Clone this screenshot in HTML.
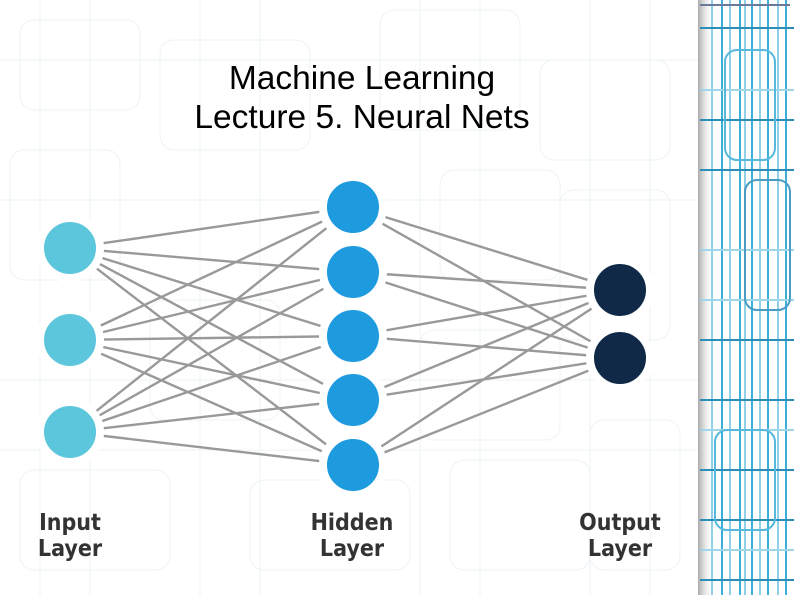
<!DOCTYPE html>
<html><head><meta charset="utf-8"><style>
html,body{margin:0;padding:0;background:#fff}
body{width:794px;height:595px;overflow:hidden;position:relative;font-family:"Liberation Sans",sans-serif}
</style></head><body>
<svg width="794" height="595" viewBox="0 0 794 595" xmlns="http://www.w3.org/2000/svg" style="position:absolute;left:0;top:0">
<g stroke="#eef3f6" stroke-width="1" fill="none">
<rect x="20" y="20" width="120" height="90" rx="14"/><rect x="160" y="40" width="150" height="110" rx="14"/>
<rect x="380" y="10" width="140" height="120" rx="14"/><rect x="540" y="60" width="130" height="100" rx="14"/>
<rect x="10" y="150" width="110" height="130" rx="14"/><rect x="440" y="170" width="120" height="110" rx="14"/>
<rect x="560" y="190" width="110" height="150" rx="14"/><rect x="150" y="300" width="130" height="120" rx="14"/>
<rect x="420" y="330" width="140" height="110" rx="14"/><rect x="20" y="470" width="150" height="100" rx="14"/>
<rect x="250" y="480" width="160" height="90" rx="14"/><rect x="450" y="460" width="140" height="110" rx="14"/>
<rect x="590" y="420" width="90" height="150" rx="14"/>
<path d="M40 0V595M90 0V595M200 0V595M260 0V595M420 0V595M480 0V595M590 0V595M650 0V595M0 60H698M0 200H698M0 380H698M0 450H698"/>
</g>
<defs><linearGradient id="sh" x1="0" x2="1"><stop offset="0" stop-color="#aaa"/><stop offset="1" stop-color="#fff" stop-opacity="0"/></linearGradient></defs>
<rect x="698" y="0" width="96" height="595" fill="#fff"/>
<rect x="698" y="0" width="16" height="595" fill="url(#sh)"/>
<g fill="none" stroke-width="2">
<path d="M722 0V595M740 0V595M752 0V595M768 0V595M786 0V595" stroke="#3ab0d8"/>
<path d="M712 0V595M730 0V595M745 0V595M760 0V595M778 0V595" stroke="#8fd0e6"/>
<path d="M700 28H794M700 120H794M700 170H794M700 340H794M700 400H794M700 470H794M700 520H794M700 580H794" stroke="#2a8fb8"/>
<path d="M700 90H794M700 250H794M700 300H794M700 430H794M700 550H794" stroke="#9fd6ea"/>
<rect x="725" y="50" width="50" height="110" rx="12" stroke="#55b8dc"/>
<rect x="745" y="180" width="45" height="130" rx="12" stroke="#4a9cc4"/>
<rect x="715" y="430" width="60" height="100" rx="12" stroke="#55b8dc"/>
<path d="M700 5H790" stroke="#6a7a9a"/>
</g>
<g stroke="#999" stroke-width="2.4">
<line x1="70" y1="248" x2="353" y2="207"/><line x1="70" y1="248" x2="353" y2="272"/><line x1="70" y1="248" x2="353" y2="336"/><line x1="70" y1="248" x2="353" y2="400"/><line x1="70" y1="248" x2="353" y2="465"/>
<line x1="70" y1="340" x2="353" y2="207"/><line x1="70" y1="340" x2="353" y2="272"/><line x1="70" y1="340" x2="353" y2="336"/><line x1="70" y1="340" x2="353" y2="400"/><line x1="70" y1="340" x2="353" y2="465"/>
<line x1="70" y1="432" x2="353" y2="207"/><line x1="70" y1="432" x2="353" y2="272"/><line x1="70" y1="432" x2="353" y2="336"/><line x1="70" y1="432" x2="353" y2="400"/><line x1="70" y1="432" x2="353" y2="465"/>
<line x1="353" y1="207" x2="620" y2="290"/><line x1="353" y1="207" x2="620" y2="358"/>
<line x1="353" y1="272" x2="620" y2="290"/><line x1="353" y1="272" x2="620" y2="358"/>
<line x1="353" y1="336" x2="620" y2="290"/><line x1="353" y1="336" x2="620" y2="358"/>
<line x1="353" y1="400" x2="620" y2="290"/><line x1="353" y1="400" x2="620" y2="358"/>
<line x1="353" y1="465" x2="620" y2="290"/><line x1="353" y1="465" x2="620" y2="358"/>
</g>
<g stroke="#fff" stroke-width="8">
<circle cx="70" cy="248" r="30" fill="#5bc6dc"/><circle cx="70" cy="340" r="30" fill="#5bc6dc"/><circle cx="70" cy="432" r="30" fill="#5bc6dc"/>
<circle cx="353" cy="207" r="30" fill="#1e9ade"/><circle cx="353" cy="272" r="30" fill="#1e9ade"/><circle cx="353" cy="336" r="30" fill="#1e9ade"/><circle cx="353" cy="400" r="30" fill="#1e9ade"/><circle cx="353" cy="465" r="30" fill="#1e9ade"/>
<circle cx="620" cy="290" r="30" fill="#0f2947"/><circle cx="620" cy="358" r="30" fill="#0f2947"/>
</g>
<g font-family="Liberation Sans, sans-serif" font-size="33.5" fill="#000" text-anchor="middle">
<text x="362" y="89">Machine Learning</text>
<text x="362" y="128">Lecture 5. Neural Nets</text>
</g>
<g font-family="DejaVu Sans Condensed, DejaVu Sans, sans-serif" font-weight="bold" font-size="23" fill="#333" text-anchor="middle">
<text x="70" y="530">Input</text><text x="70" y="556">Layer</text>
<text x="352" y="530">Hidden</text><text x="352" y="556">Layer</text>
<text x="620" y="530">Output</text><text x="620" y="556">Layer</text>
</g>
</svg>
</body></html>
